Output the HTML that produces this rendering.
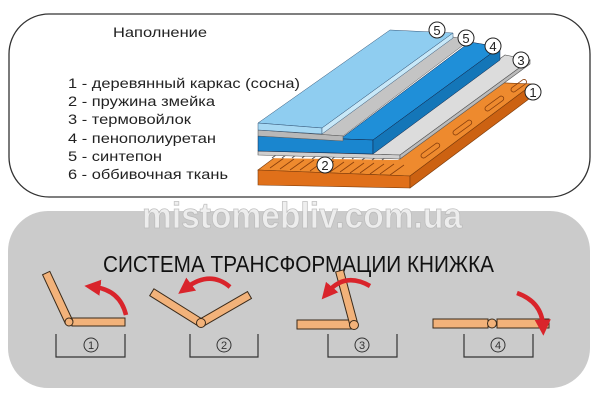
<!DOCTYPE html>
<html><head><meta charset="utf-8"><style>
html,body{margin:0;padding:0;background:#fff;}
svg{display:block;font-family:"Liberation Sans",Arial,sans-serif;}
</style></head><body>
<svg width="600" height="409" viewBox="0 0 600 409" xmlns="http://www.w3.org/2000/svg">
<rect x="9" y="14" width="581" height="183" rx="40" fill="#fff" stroke="#333" stroke-width="1.3"/>
<rect x="8" y="211" width="582" height="177" rx="40" fill="#cbcbcb"/>
<text x="142" y="228" font-size="36" font-weight="bold" fill="#efefef" stroke="#bdbdbd" stroke-width="0.8" textLength="320" lengthAdjust="spacingAndGlyphs" opacity="0.95">mistomebliv.com.ua</text>

<text x="113" y="37" font-size="14" fill="#222" textLength="94" lengthAdjust="spacingAndGlyphs">Наполнение</text>
<g font-size="14" fill="#222">
<text x="68" y="88" textLength="232" lengthAdjust="spacingAndGlyphs">1 - деревянный каркас (сосна)</text>
<text x="68" y="106" textLength="147" lengthAdjust="spacingAndGlyphs">2 - пружина змейка</text>
<text x="68" y="124" textLength="123" lengthAdjust="spacingAndGlyphs">3 - термовойлок</text>
<text x="68" y="143" textLength="148" lengthAdjust="spacingAndGlyphs">4 - пенополиуретан</text>
<text x="68" y="161" textLength="94" lengthAdjust="spacingAndGlyphs">5 - синтепон</text>
<text x="68" y="179" textLength="160" lengthAdjust="spacingAndGlyphs">6 - оббивочная ткань</text>
</g>

<polygon points="258,170 410,176 533,84 381,78" fill="#ee8a2e" stroke="#7a3a0a" stroke-width="0.6"/>
<polygon points="258,170 410,176 410,188 258,185" fill="#e0701a" stroke="#7a3a0a" stroke-width="0.6"/>
<polygon points="410,176 533,84 533,96 410,188" fill="#cc6212" stroke="#7a3a0a" stroke-width="0.6"/>
<g fill="none" stroke="#8a3f0c" stroke-width="0.8">
<path d="M270,168 l14,-10 M280,169 l14,-10 M290,170 l14,-10 M300,170 l14,-10 M310,171 l14,-10 M320,171 l14,-10 M330,172 l14,-10 M340,172 l14,-10 M350,173 l14,-10 M360,173 l14,-10 M370,174 l14,-10 M380,174 l14,-10 M390,175 l14,-10"/>
<rect x="0" y="0" width="22" height="5" rx="2.5" transform="translate(420,155) rotate(-36)"/>
<rect x="0" y="0" width="22" height="5" rx="2.5" transform="translate(452,132) rotate(-36)"/>
<rect x="0" y="0" width="22" height="5" rx="2.5" transform="translate(484,108) rotate(-36)"/>
<rect x="0" y="0" width="18" height="5" rx="2.5" transform="translate(510,89) rotate(-36)"/>
</g>
<polygon points="262,158 398,160 515,72 380,68" fill="#fff"/>
<g stroke="#555" stroke-width="1"><path d="M272,158 l4,-3 M282,158 l4,-3 M292,158 l4,-3 M302,158 l4,-3 M312,159 l4,-3 M322,159 l4,-3 M332,159 l4,-3 M342,159 l4,-3 M352,159 l4,-3 M362,160 l4,-3 M372,160 l4,-3 M382,160 l4,-3"/></g>
<polygon points="258,151 373,152 505,55 530,60 400,155" fill="#dcdcdc" stroke="#555" stroke-width="0.6"/>
<polygon points="258,151 400,155 400,159 258,155" fill="#cfcfcf" stroke="#555" stroke-width="0.6"/>
<polygon points="400,155 530,60 530,64 400,159" fill="#bbb" stroke="#555" stroke-width="0.6"/>
<polygon points="258,136 343,137 470,42 500,47 373,140" fill="#1f8fd8" stroke="#124" stroke-width="0.5"/>
<polygon points="258,136 373,140 373,154 258,151" fill="#1a86cf" stroke="#124" stroke-width="0.5"/>
<polygon points="373,140 500,47 500,60 373,154" fill="#1476b8" stroke="#124" stroke-width="0.5"/>
<polygon points="258,130 322,130 453,37 470,40 343,136" fill="#c4c4c4" stroke="#555" stroke-width="0.5"/>
<polygon points="258,130 343,136 343,141 258,136" fill="#b8b8b8" stroke="#555" stroke-width="0.5"/>
<polygon points="258,123 322,128 453,33 390,30" fill="#8fcdf0" stroke="#357" stroke-width="0.5"/>
<polygon points="258,123 322,128 322,134 258,130" fill="#a6d8f3" stroke="#357" stroke-width="0.5"/>
<polygon points="322,128 453,33 453,38 322,134" fill="#c8e8f8" stroke="#357" stroke-width="0.5"/>

<g stroke="#222" stroke-width="1">
<circle cx="437" cy="30" r="8" fill="#fff"/><circle cx="466" cy="38" r="8" fill="#fff"/>
<circle cx="493" cy="46" r="8" fill="#fff"/><circle cx="521" cy="60" r="8" fill="#fff"/>
<circle cx="533" cy="92" r="8" fill="#fff"/><circle cx="325" cy="165" r="8" fill="#fff"/>
</g>
<g font-size="13" fill="#222" text-anchor="middle">
<text x="437" y="35">5</text><text x="466" y="43">5</text><text x="493" y="51">4</text>
<text x="521" y="65">3</text><text x="533" y="97">1</text><text x="325" y="170">2</text>
</g>

<text x="103" y="272" font-size="23" fill="#111" textLength="391" lengthAdjust="spacingAndGlyphs">СИСТЕМА ТРАНСФОРМАЦИИ КНИЖКА</text>

<defs><marker id="ah" viewBox="0 0 10 10" refX="4" refY="5" markerWidth="3.6" markerHeight="3.6" orient="auto"><path d="M0,0 L10,5 L0,10z" fill="#d9242b"/></marker></defs>
<g fill="#f2b27a" stroke="#3a2a1a" stroke-width="1">
<rect x="72" y="318" width="53" height="8"/>
<rect x="-4" y="-54" width="8" height="54" transform="translate(69,322) rotate(-25)"/>
<circle cx="69" cy="322" r="4"/>
<rect x="-4" y="-58" width="8" height="58" transform="translate(201,323) rotate(-58)"/>
<rect x="-4" y="-56" width="8" height="56" transform="translate(201,323) rotate(60)"/>
<circle cx="201" cy="323" r="4.5"/>
<rect x="297" y="320" width="57" height="9"/>
<rect x="-4" y="-56" width="8" height="56" transform="translate(354,325) rotate(-15)"/>
<circle cx="354" cy="325" r="4.5"/>
<rect x="433" y="319" width="55" height="9"/>
<rect x="497" y="319" width="52" height="9"/>
<circle cx="492" cy="323.5" r="4.5"/>
</g>
<g fill="none" stroke="#d9242b" stroke-width="4.5">
<path d="M126,315 Q120,290 94,287" marker-end="url(#ah)"/>
<path d="M230,287 Q210,270 186,288" marker-end="url(#ah)"/>
<path d="M370,286 Q345,272 328,292" marker-end="url(#ah)"/>
<path d="M517,293 Q542,302 543,326" marker-end="url(#ah)"/>
</g>
<g fill="none" stroke="#333" stroke-width="1.2">
<path d="M56,334 V357 H125 V334"/>
<path d="M190,334 V357 H258 V334"/>
<path d="M328,334 V357 H397 V334"/>
<path d="M464,334 V357 H533 V334"/>
</g>
<g stroke="#333" stroke-width="1" fill="none">
<circle cx="91" cy="345" r="7"/><circle cx="224" cy="345" r="7"/><circle cx="362" cy="345" r="7"/><circle cx="498" cy="345" r="7"/>
</g>
<g font-size="11" fill="#333" text-anchor="middle">
<text x="91" y="349">1</text><text x="224" y="349">2</text><text x="362" y="349">3</text><text x="498" y="349">4</text>
</g>
</svg>
</body></html>
